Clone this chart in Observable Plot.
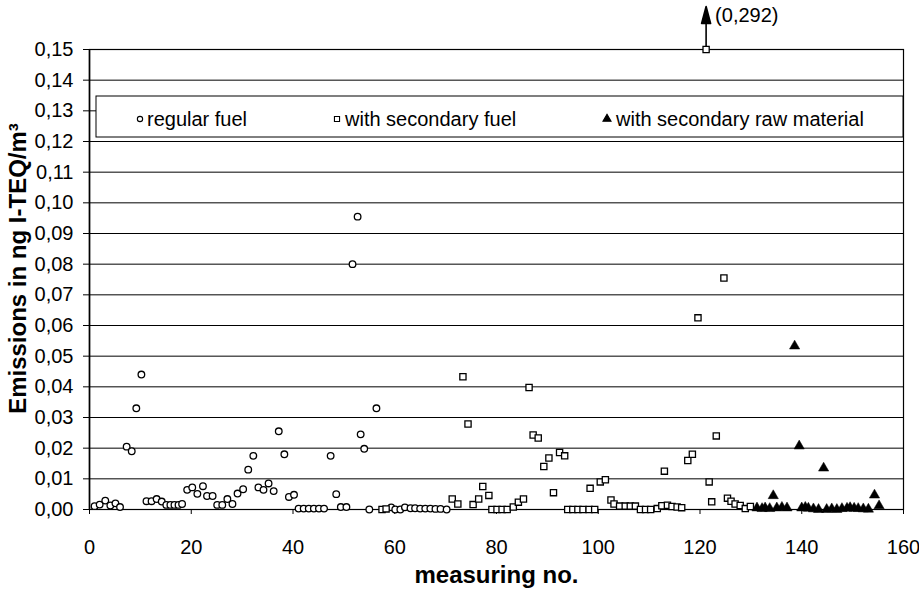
<!DOCTYPE html>
<html><head><meta charset="utf-8">
<script src="https://cdn.jsdelivr.net/npm/d3@7"></script>
<script src="https://cdn.jsdelivr.net/npm/@observablehq/plot@0.6"></script>
<style>
html,body{margin:0;padding:0;background:#fff;}
#chart{width:919px;height:607px;}
</style></head><body><div id="chart"></div>
<script>
// ---- data ----
const seriesNames = ["regular fuel", "with secondary fuel", "with secondary raw material"];
const regularX = [1.0,2.0,3.1,4.1,5.1,6.0,7.3,8.3,9.2,10.2,11.2,12.2,13.2,14.2,15.1,15.9,16.7,17.5,18.2,19.2,20.2,21.2,22.3,23.1,24.2,25.1,26.1,27.1,28.1,29.1,30.2,31.2,32.2,33.2,34.2,35.2,36.2,37.2,38.3,39.2,40.2,41.1,42.1,43.1,44.1,45.1,46.1,47.4,48.5,49.4,50.5,51.7,52.7,53.3,54.0,55.0,56.4,59.3,60.1,61.1,62.0,63.1,64.0,65.0,66.0,67.0,68.0,69.0,70.2];
const regularY = [0.0011,0.0016,0.0029,0.0013,0.0020,0.0008,0.0205,0.0190,0.0330,0.0440,0.0027,0.0027,0.0034,0.0026,0.0015,0.0015,0.0015,0.0015,0.0018,0.0064,0.0072,0.0051,0.0076,0.0044,0.0044,0.0015,0.0015,0.0034,0.0018,0.0052,0.0066,0.0130,0.0175,0.0072,0.0064,0.0085,0.0060,0.0255,0.0180,0.0041,0.0048,0.0003,0.0003,0.0003,0.0003,0.0003,0.0003,0.0175,0.0050,0.0008,0.0008,0.0800,0.0955,0.0245,0.0198,0.0000,0.0330,0.0007,0.0000,0.0000,0.0007,0.0004,0.0004,0.0003,0.0003,0.0003,0.0002,0.0002,0.0000];
const secFuelX = [57.5,58.3,71.3,72.4,73.4,74.4,75.4,76.5,77.3,78.5,79.1,80.1,81.1,82.1,83.3,84.3,85.3,86.4,87.2,88.2,89.3,90.3,91.2,92.4,93.4,94.0,95.0,96.0,97.0,98.2,98.4,99.3,100.4,101.4,102.5,103.1,104.2,105.3,106.3,107.3,108.3,109.3,110.3,111.6,112.5,113.0,113.6,114.5,115.5,116.4,117.6,118.5,119.6,121.2,121.8,122.3,123.2,124.7,125.4,126.1,126.9,127.9,128.9,129.9];
const secFuelY = [0.0000,0.0002,0.0034,0.0018,0.0433,0.0279,0.0016,0.0034,0.0075,0.0046,0.0000,0.0000,0.0000,0.0000,0.0008,0.0024,0.0034,0.0398,0.0243,0.0233,0.0140,0.0168,0.0055,0.0186,0.0175,0.0000,0.0000,0.0000,0.0000,0.0000,0.0069,0.0000,0.0090,0.0097,0.0031,0.0018,0.0011,0.0011,0.0011,0.0011,0.0000,0.0000,0.0000,0.0003,0.0012,0.0125,0.0014,0.0010,0.0008,0.0006,0.0160,0.0180,0.0625,0.2920,0.0090,0.0025,0.0240,0.0755,0.0037,0.0027,0.0018,0.0013,0.0003,0.0010];
const secRawX = [131.2,132.2,132.8,133.7,134.4,135.1,136.1,137.1,138.6,139.5,140.0,140.7,141.3,142.3,143.3,144.3,144.9,145.9,146.9,147.9,148.9,149.5,150.3,151.1,152.1,153.1,154.3,155.2];
const secRawY = [0.0005,0.0003,0.0005,0.0003,0.0045,0.0005,0.0007,0.0005,0.0533,0.0207,0.0005,0.0007,0.0004,0.0002,0.0000,0.0135,0.0000,0.0002,0.0000,0.0003,0.0004,0.0006,0.0004,0.0003,0.0002,0.0001,0.0047,0.0012];
const yTicks = [0,0.01,0.02,0.03,0.04,0.05,0.06,0.07,0.08,0.09,0.10,0.11,0.12,0.13,0.14,0.15];
const xTicks = [0,20,40,60,80,100,120,140,160];
const yLabel = "Emissions in ng I-TEQ/m³";
const xLabel = "measuring no.";

// ---- helpers ----
const yMax = yTicks[yTicks.length - 1];
const fmtY = d => d3.format(".2f")(d).replace(".", ",");
const fmtV = d => d3.format(".3f")(d).replace(".", ",");
const reg = regularX.map((x, i) => ({x, y: regularY[i]}));
const fuel = secFuelX.map((x, i) => ({x, y: secFuelY[i], yd: Math.min(secFuelY[i], yMax)}));
const raw = secRawX.map((x, i) => ({x, y: secRawY[i]}));
const off = fuel.filter(d => d.y > yMax);

const arrowShape = {
  draw(ctx, l) {
    ctx.moveTo(0, 0);
    ctx.lineTo(0, -l + 14);
    ctx.moveTo(-4.5, -l + 17);
    ctx.lineTo(0, -l);
    ctx.lineTo(4.5, -l + 17);
    ctx.closePath();
  }
};

const FONT = "'Liberation Sans', Arial, Helvetica, sans-serif";
const plot = Plot.plot({
  width: 919, height: 607,
  marginLeft: 89, marginRight: 16, marginTop: 49, marginBottom: 98,
  style: {fontFamily: FONT, fontSize: "20px", color: "black", background: "white"},
  x: {domain: [0, 160], label: null},
  y: {domain: [0, yMax], label: null},
  marks: [
    Plot.gridY(yTicks, {stroke: "black", strokeOpacity: 1, strokeWidth: 1}),
    Plot.frame({stroke: "black", strokeWidth: 1.2}),
    Plot.axisY(yTicks, {tickFormat: fmtY, tickSize: 6, tickPadding: 10, fontSize: 20, label: null}),
    Plot.axisX(xTicks, {tickFormat: d => String(d), tickSize: 5, tickPadding: 25, fontSize: 20, label: null}),
    Plot.ruleX([0], {stroke: "black", strokeWidth: 1.6}),
    Plot.vector(off, {x: "x", y: "yd", length: 43, rotate: 0, anchor: "start", shape: arrowShape, stroke: "black", fill: "black", strokeWidth: 1.6}),
    Plot.text(off, {x: "x", y: "yd", text: d => `(${fmtV(d.y)})`, dx: 9, dy: -34, textAnchor: "start", fontSize: 20}),
    Plot.dot(reg, {x: "x", y: "y", symbol: "circle", r: 3.3, stroke: "black", strokeWidth: 1.3, fill: "white"}),
    Plot.dot(fuel, {x: "x", y: "yd", symbol: "square", r: 3.5, stroke: "black", strokeWidth: 1.3, fill: "white"}),
    Plot.dot(raw, {x: "x", y: "y", symbol: "triangle", r: 3.8, fill: "black", stroke: "black", strokeWidth: 0.5}),
    Plot.text([yLabel], {frameAnchor: "left", dx: -71, dy: -11, rotate: -90, textAnchor: "middle", fontWeight: "bold", fontSize: 24}),
    Plot.text([xLabel], {frameAnchor: "bottom", dy: 73, textAnchor: "middle", fontWeight: "bold", fontSize: 24})
  ]
});

// ---- legend box inside the plot area ----
const svg = d3.select(plot);
const lg = svg.append("g").attr("font-family", FONT).attr("font-size", 20).attr("text-anchor", "start");
lg.append("rect").attr("x", 96).attr("y", 96).attr("width", 807).attr("height", 41)
  .attr("fill", "white").attr("stroke", "black").attr("stroke-width", 1);
const items = [
  {name: seriesNames[0], sym: d3.symbolCircle, size: 22, fill: "white", sx: 140, tx: 147},
  {name: seriesNames[1], sym: d3.symbolSquare, size: 26, fill: "white", sx: 337, tx: 345},
  {name: seriesNames[2], sym: d3.symbolTriangle, size: 28, fill: "black", sx: 607, tx: 616}
];
for (const it of items) {
  lg.append("path").attr("d", d3.symbol(it.sym, it.size)()).attr("transform", `translate(${it.sx},119)`)
    .attr("fill", it.fill).attr("stroke", "black").attr("stroke-width", 1.1);
  lg.append("text").attr("x", it.tx).attr("y", 119).attr("dy", "0.35em").attr("text-anchor", "start").text(it.name);
}
document.getElementById("chart").appendChild(plot);
</script>
</body></html>
